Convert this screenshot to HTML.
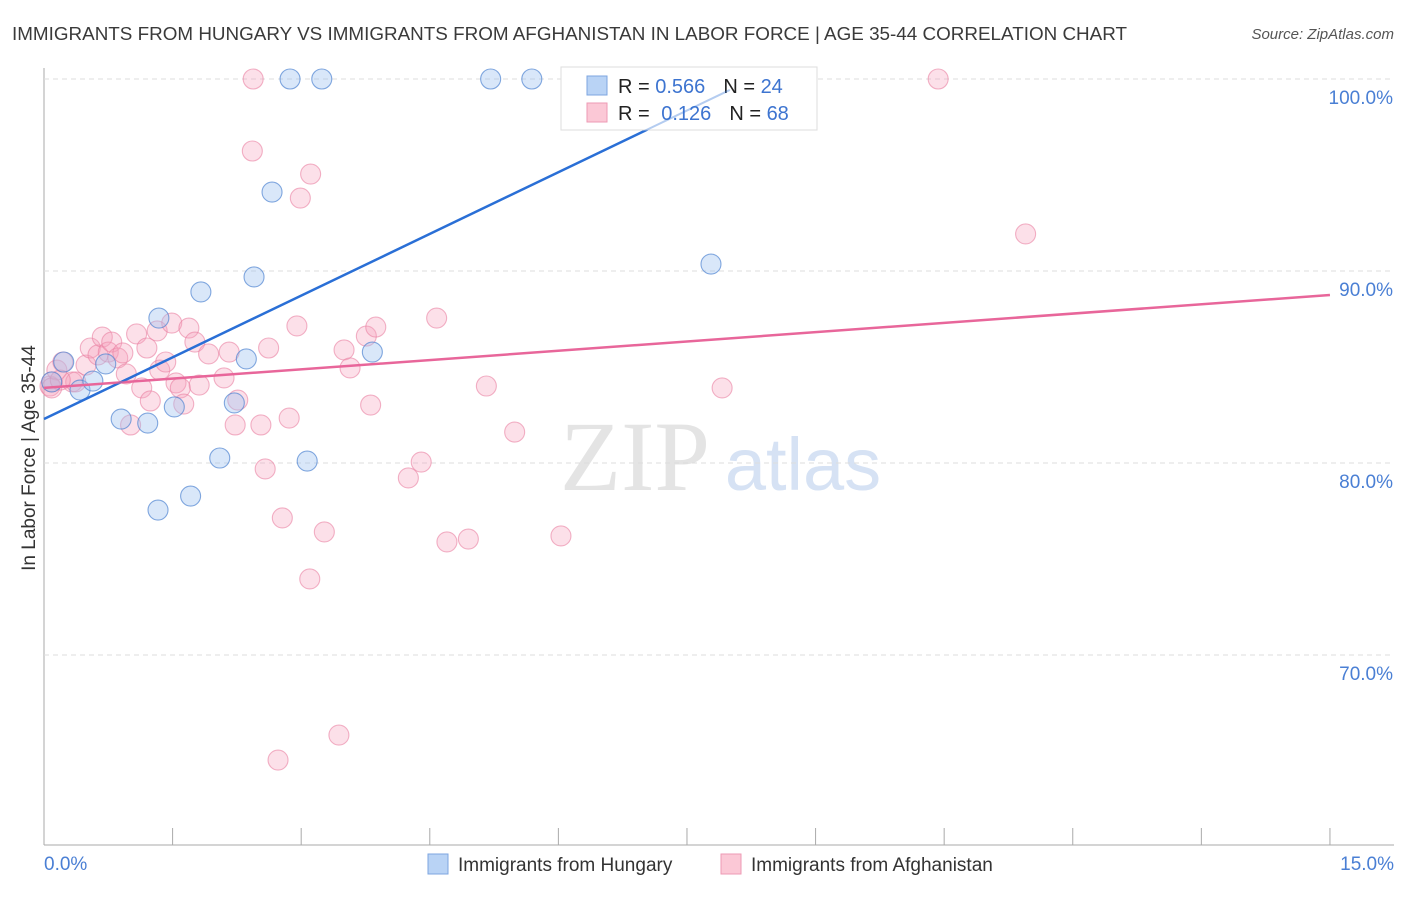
<!DOCTYPE html>
<html><head><meta charset="utf-8"><style>
body{margin:0;background:#fff;font-family:"Liberation Sans",sans-serif}
svg text{font-family:"Liberation Sans",sans-serif}
</style></head><body>
<svg width="1406" height="892" id="c">
<text x="12" y="40" font-size="18.5" fill="#3a3a3a" textLength="1115" lengthAdjust="spacingAndGlyphs">IMMIGRANTS FROM HUNGARY VS IMMIGRANTS FROM AFGHANISTAN IN LABOR FORCE | AGE 35-44 CORRELATION CHART</text>
<text x="1394" y="39" font-size="15" fill="#555" font-style="italic" text-anchor="end">Source: ZipAtlas.com</text>
<text x="35" y="458" font-size="19" fill="#333" text-anchor="middle" transform="rotate(-90 35 458)">In Labor Force | Age 35-44</text>
<g><text x="635" y="490" font-size="100" fill="#e4e4e4" text-anchor="middle" style="font-family:'Liberation Serif',serif">ZIP</text><text x="803" y="490" font-size="74" fill="#d6e2f4" text-anchor="middle">atlas</text></g>
<g id="grid"></g><g id="marks"></g>
<g>
<rect x="561" y="67" width="256" height="63" fill="#fff" stroke="#ddd"/>
<rect x="587" y="76" width="20" height="19" fill="#b9d3f5" stroke="#7da6e0"/>
<rect x="587" y="103" width="20" height="19" fill="#fbc8d6" stroke="#ee9ab4"/>
<text x="618" y="93" font-size="20" fill="#222">R = <tspan fill="#3d74d0">0.566</tspan><tspan dx="18">N = </tspan><tspan fill="#3d74d0">24</tspan></text>
<text x="618" y="120" font-size="20" fill="#222">R = <tspan fill="#3d74d0" dx="6">0.126</tspan><tspan dx="18">N = </tspan><tspan fill="#3d74d0">68</tspan></text>
</g>
<g id="over"></g>
<g>
<rect x="428" y="854" width="20" height="20" fill="#b9d3f5" stroke="#7da6e0"/>
<text x="458" y="871" font-size="19" fill="#333">Immigrants from Hungary</text>
<rect x="721" y="854" width="20" height="20" fill="#fbc8d6" stroke="#ee9ab4"/>
<text x="751" y="871" font-size="19" fill="#333">Immigrants from Afghanistan</text>
</g>
</svg>
<script>
const yTicks=[100,90,80,70];
const yTickLabels=["100.0%","90.0%","80.0%","70.0%"];
const xTicks=[0,1.5,3,4.5,6,7.5,9,10.5,12,13.5,15];
const hungaryX=[0.09,0.23,0.42,0.57,0.72,0.90,1.21,1.34,1.33,1.52,1.71,1.83,2.05,2.22,2.36,2.45,2.66,2.87,3.07,3.24,3.83,5.21,5.69,7.78];
const hungaryY=[84.22,85.26,83.80,84.27,85.16,82.29,82.08,87.55,77.55,82.92,78.28,88.91,80.26,83.13,85.42,89.69,94.11,100,80.10,100,85.78,100,100,90.36];
const afghanX=[0.07,0.09,0.15,0.22,0.33,0.37,0.49,0.54,0.63,0.68,0.75,0.79,0.86,0.92,0.96,1.01,1.08,1.14,1.20,1.24,1.32,1.35,1.42,1.49,1.54,1.59,1.63,1.69,1.76,1.81,1.92,2.10,2.16,2.23,2.26,2.44,2.43,2.53,2.58,2.62,2.78,2.86,2.95,2.99,3.10,3.11,3.27,3.44,3.50,3.57,3.76,3.81,3.87,2.73,4.25,4.40,4.58,4.70,4.95,5.16,5.49,6.03,6.87,7.91,10.43,11.45,0.09,0.19];
const afghanY=[84.01,84.22,84.84,85.26,84.22,84.22,85.10,85.99,85.63,86.56,85.78,86.30,85.47,85.73,84.64,81.98,86.72,83.91,85.99,83.23,86.88,84.84,85.26,87.29,84.17,83.91,83.07,87.03,86.30,84.06,85.68,84.43,85.78,81.98,83.28,100,96.25,81.98,79.69,85.99,77.14,82.34,87.14,93.80,73.96,95.05,76.41,65.83,85.89,84.95,86.61,83.02,87.08,64.53,79.22,80.05,87.55,75.89,76.04,84.01,81.61,76.20,100,83.91,100,91.93,83.91,84.32];
const hungaryTrend=[[0,82.29],[8.0,99.43]];
const afghanTrend=[[0,83.91],[15,88.75]];
const X=v=>44+v*85.73, Y=v=>79+(100-v)*19.2;
const NS="http://www.w3.org/2000/svg";
function mk(t,a,p){const e=document.createElementNS(NS,t);for(const k in a)e.setAttribute(k,a[k]);p.appendChild(e);return e;}
const g=document.getElementById('grid'), m=document.getElementById('marks'), ov=document.getElementById('over');
mk('line',{x1:44,y1:68,x2:44,y2:845,stroke:'#aaa'},g);
mk('line',{x1:44,y1:845,x2:1394,y2:845,stroke:'#aaa'},g);
yTicks.forEach((t,i)=>{
 const l=mk('line',{x1:44,y1:Y(t),x2:1394,y2:Y(t),stroke:'#ddd','stroke-dasharray':'5,4'},g);
 
 
 const tx=mk('text',{x:1393,y:Y(t)+25,'font-size':19,fill:'#4a7fd4','text-anchor':'end'},g);
 tx.textContent=yTickLabels[i];
 
 
});
xTicks.forEach(t=>{
 const l=mk('line',{x1:X(t),y1:828,x2:X(t),y2:845,stroke:'#aaa'},g);
 
 
});
let a=mk('text',{x:44,y:870,'font-size':19,fill:'#4a7fd4'},g);a.textContent='0.0%';


a=mk('text',{x:1394,y:870,'font-size':19,fill:'#4a7fd4','text-anchor':'end'},g);a.textContent='15.0%';


afghanX.forEach((x,i)=>{
 const c=mk('circle',{cx:X(x),cy:Y(afghanY[i]),r:10,fill:'rgba(246,160,188,0.33)',stroke:'rgba(234,128,162,0.6)','stroke-width':1.1},m);
 
 
});
hungaryX.forEach((x,i)=>{
 const c=mk('circle',{cx:X(x),cy:Y(hungaryY[i]),r:10,fill:'rgba(160,196,240,0.4)',stroke:'rgba(80,132,210,0.7)','stroke-width':1.1},m);
 
 
});
let t=mk('line',{x1:X(hungaryTrend[0][0]),y1:Y(hungaryTrend[0][1]),x2:X(hungaryTrend[1][0]),y2:Y(hungaryTrend[1][1]),stroke:'#2a6fd6','stroke-width':2.5},m);


t=mk('line',{x1:X(hungaryTrend[0][0]),y1:Y(hungaryTrend[0][1]),x2:X(hungaryTrend[1][0]),y2:Y(hungaryTrend[1][1]),stroke:'#2a6fd6','stroke-width':2,opacity:0.35},ov);


t=mk('line',{x1:X(afghanTrend[0][0]),y1:Y(afghanTrend[0][1]),x2:X(afghanTrend[1][0]),y2:Y(afghanTrend[1][1]),stroke:'#e8669a','stroke-width':2.5},m);


</script>
</body></html>
